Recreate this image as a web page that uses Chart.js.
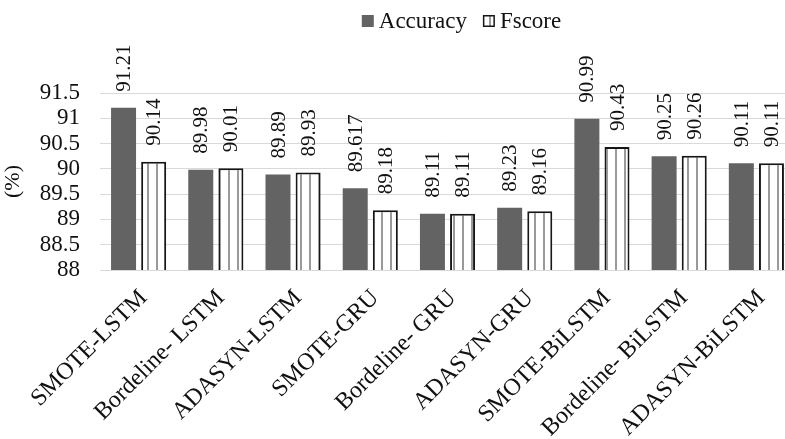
<!DOCTYPE html>
<html>
<head>
<meta charset="utf-8">
<script src="https://cdn.jsdelivr.net/npm/chart.js@4/dist/chart.umd.min.js"></script>
<style>
  html, body { margin: 0; padding: 0; background: #fff; overflow: hidden; }
  #wrap { width: 795px; height: 439px; }
</style>
</head>
<body>
<div id="wrap"><canvas id="chart" width="795" height="439"></canvas></div>
<script>
// values
const categories = ['SMOTE-LSTM', 'Bordeline- LSTM', 'ADASYN-LSTM', 'SMOTE-GRU', 'Bordeline- GRU',
    'ADASYN-GRU', 'SMOTE-BiLSTM', 'Bordeline- BiLSTM', 'ADASYN-BiLSTM'];
const accuracy = [91.21, 89.98, 89.89, 89.617, 89.11, 89.23, 90.99, 90.25, 90.11];
const fscore = [90.14, 90.01, 89.93, 89.18, 89.11, 89.16, 90.43, 90.26, 90.11];
const yTicks = [88, 88.5, 89, 89.5, 90, 90.5, 91, 91.5];

const FONT = '"Liberation Serif", "Times New Roman", serif';

// white bar with thin grey vertical stripes
function stripePattern() {
    const c = document.createElement('canvas');
    c.width = 9;
    c.height = 9;
    const g = c.getContext('2d');
    g.fillStyle = '#ffffff';
    g.fillRect(0, 0, 9, 9);
    g.fillStyle = '#9a9a9a';
    g.fillRect(3, 0, 2, 9);
    return g.createPattern(c, 'repeat');
}

const valueLabels = {
    id: 'valueLabels',
    afterDatasetsDraw(chart) {
        const ctx = chart.ctx;
        ctx.save();
        ctx.font = '21px ' + FONT;
        ctx.fillStyle = '#111';
        ctx.textAlign = 'left';
        ctx.textBaseline = 'middle';
        chart.data.datasets.forEach((ds, i) => {
            chart.getDatasetMeta(i).data.forEach((bar, j) => {
                ctx.save();
                ctx.translate(bar.x, bar.y - 16);
                ctx.rotate(-Math.PI / 2);
                ctx.fillText(String(ds.data[j]), 0, 1);
                ctx.restore();
            });
        });
        ctx.restore();
    }
};

const topLegend = {
    id: 'topLegend',
    afterDraw(chart) {
        const ctx = chart.ctx;
        const area = chart.chartArea;
        ctx.save();
        ctx.font = '23px ' + FONT;
        ctx.textBaseline = 'middle';
        const box = 12, gap = 5, spacing = 16;
        const items = chart.data.datasets.map(ds => ({ ds, w: ctx.measureText(ds.label).width }));
        let total = 0;
        items.forEach((it, i) => { total += box + gap + it.w + (i ? spacing : 0); });
        let x = (area.left + area.right) / 2 - total / 2 + 14;
        const y = 21;
        items.forEach(it => {
            ctx.fillStyle = it.ds.backgroundColor;
            ctx.fillRect(x, y - box / 2, box, box);
            if (it.ds.borderWidth) {
                ctx.strokeStyle = it.ds.borderColor;
                ctx.lineWidth = 1.5;
                ctx.strokeRect(x + 0.75, y - box / 2 + 0.75, box - 1.5, box - 1.5);
            }
            ctx.fillStyle = '#111';
            ctx.fillText(it.ds.label, x + box + gap, y + 1);
            x += box + gap + it.w + spacing;
        });
        ctx.restore();
    }
};

const ctx = document.getElementById('chart').getContext('2d');
new Chart(ctx, {
    type: 'bar',
    data: {
        labels: categories,
        datasets: [
            {
                label: 'Accuracy',
                data: accuracy,
                backgroundColor: '#636363',
                borderWidth: 0,
                barPercentage: 0.83,
                categoryPercentage: 0.78
            },
            {
                label: 'Fscore',
                data: fscore,
                backgroundColor: stripePattern(),
                borderColor: '#161616',
                borderWidth: 2,
                borderSkipped: false,
                barPercentage: 0.83,
                categoryPercentage: 0.78
            }
        ]
    },
    options: {
        responsive: false,
        animation: false,
        layout: { padding: { top: 93, left: 0, right: 0, bottom: 0 } },
        plugins: {
            legend: { display: false },
            tooltip: { enabled: false }
        },
        scales: {
            x: {
                grid: { display: false, drawTicks: false },
                border: { display: true, color: '#d9d9d9', width: 1 },
                ticks: {
                    autoSkip: false,
                    minRotation: 45,
                    maxRotation: 45,
                    padding: 14,
                    labelOffset: 5,
                    color: '#111',
                    font: { family: FONT, size: 24 }
                },
                afterFit(scale) { scale.height = 169; }
            },
            y: {
                min: 88,
                max: 91.5,
                afterBuildTicks(scale) { scale.ticks = yTicks.map(v => ({ value: v })); },
                grid: { color: '#d9d9d9', drawTicks: false },
                border: { display: false },
                ticks: {
                    autoSkip: false,
                    padding: 20,
                    color: '#111',
                    font: { family: FONT, size: 23 },
                    callback: v => String(v)
                },
                title: {
                    display: true,
                    text: '(%)',
                    color: '#111',
                    font: { family: FONT, size: 22 },
                    padding: 0
                },
                afterFit(scale) { scale.width = 100; }
            }
        }
    },
    plugins: [valueLabels, topLegend]
});
</script>
</body>
</html>
